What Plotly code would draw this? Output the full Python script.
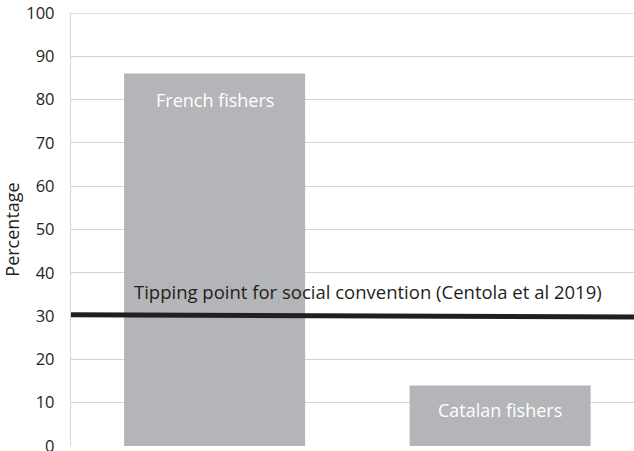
import plotly.graph_objects as go

categories = ["French fishers", "Catalan fishers"]
values = [86, 14]
label_y = [80.0, 8.2]
line_label = "Tipping point for social convention (Centola et al 2019)"
line_values = [30.3, 29.8]
y_ticks = [0, 10, 20, 30, 40, 50, 60, 70, 80, 90, 100]

FONT = "Open Sans"
GRID = "#d4d4d6"
xpos = list(range(len(categories)))
xmin, xmax = -0.503, 1.469

fig = go.Figure()
fig.add_trace(go.Bar(
    x=xpos, y=values, width=0.634,
    marker=dict(color="#b4b5b8", line=dict(width=0)),
    hoverinfo="skip", showlegend=False,
))
for xp, cat, ly in zip(xpos, categories, label_y):
    fig.add_annotation(x=xp, y=ly, text=cat, showarrow=False,
                       font=dict(size=18, color="white", family=FONT),
                       xanchor="center", yanchor="middle")
fig.add_trace(go.Scatter(
    x=[xmin, xmax], y=line_values, mode="lines",
    line=dict(color="#231f20", width=5), showlegend=False, hoverinfo="skip",
))
fig.add_annotation(
    x=0.536, y=35.7, text=line_label, showarrow=False,
    font=dict(size=18.5, color="#231f20", family=FONT), xanchor="center", yanchor="middle",
)
# top gridline at the upper end of the axis
fig.add_shape(type="line", xref="paper", x0=0, x1=1, yref="y",
              y0=y_ticks[-1], y1=y_ticks[-1], layer="below",
              line=dict(color=GRID, width=1.3))

fig.update_layout(
    width=634, height=451,
    margin=dict(l=71, r=0, t=13, b=5, autoexpand=False),
    paper_bgcolor="white", plot_bgcolor="white",
    font=dict(family=FONT, color="#231f20"),
)
fig.update_xaxes(range=[xmin, xmax], showticklabels=False, showgrid=False,
                 zeroline=False, showline=False, automargin=False)
fig.update_yaxes(range=[0, 100], tickvals=y_ticks, showgrid=True,
                 gridcolor=GRID, gridwidth=1.3, zeroline=False,
                 showline=True, linecolor=GRID, linewidth=1.3,
                 ticks="", ticklabelstandoff=12, automargin=False,
                 ticklabeloverflow="allow",
                 tickfont=dict(size=16.5, color="#231f20"),
                 title=dict(text="Percentage", font=dict(size=18), standoff=4))
fig.write_html("out.html", config={"displayModeBar": False},
               post_script="document.body.style.margin='0';")
